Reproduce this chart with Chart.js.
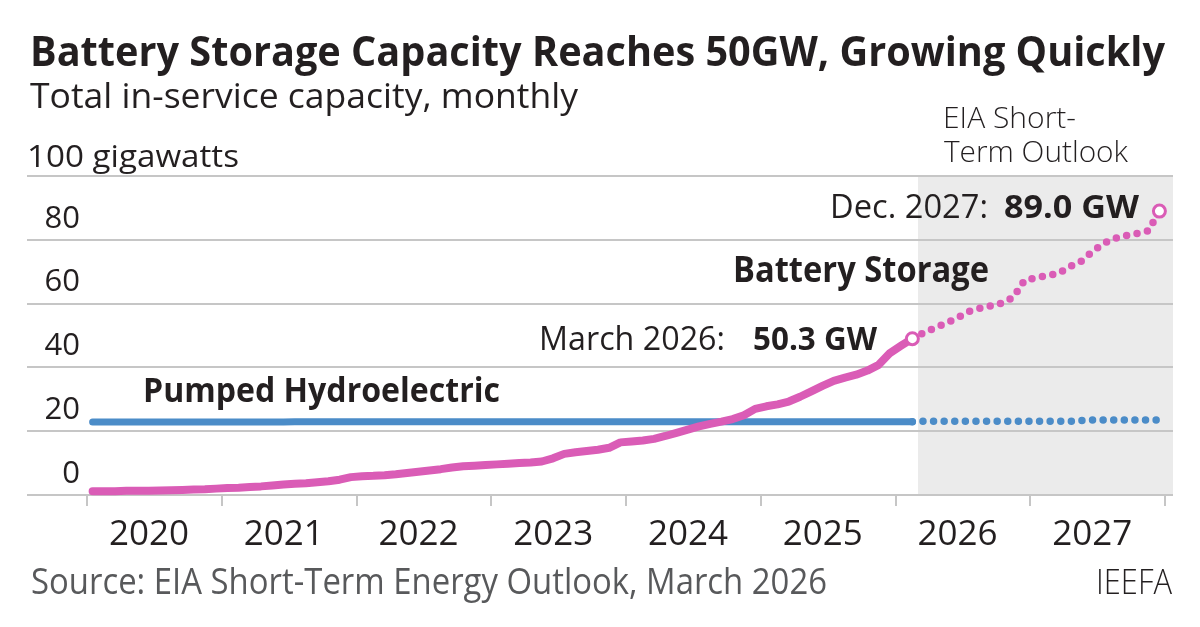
<!DOCTYPE html>
<html>
<head>
<meta charset="utf-8">
<title>Battery Storage Capacity</title>
<script src="https://cdn.jsdelivr.net/npm/chart.js@4.4.1/dist/chart.umd.min.js"></script>
<style>
  html, body { margin: 0; padding: 0; background: #fff; }
  #wrap { width: 1200px; height: 627px; }
</style>
</head>
<body>
<div id="wrap"><canvas id="chart" width="1200" height="627"></canvas></div>
<script>
// Monthly data, Jan 2020 onward (GW). Actuals run to Feb 2026, outlook to Dec 2027.
const yearLabels = ["2020", "2021", "2022", "2023", "2024", "2025", "2026", "2027"];
const yTicks = [0, 20, 40, 60, 80, 100];

const batteryActual = [
    1.2, 1.2, 1.2, 1.3, 1.3, 1.3, 1.4, 1.5, 1.6, 1.7, 1.8, 2.0,
    2.2, 2.3, 2.5, 2.7, 3.0, 3.3, 3.5, 3.7, 4.0, 4.3, 4.8, 5.6,
    5.9, 6.0, 6.2, 6.5, 6.9, 7.3, 7.7, 8.1, 8.6, 9.0, 9.2, 9.4,
    9.6, 9.8, 10.0, 10.2, 10.5, 11.5, 12.9, 13.4, 13.8, 14.2, 14.8, 16.5,
    16.8, 17.1, 17.6, 18.5, 19.5, 20.5, 21.5, 22.3, 23.0, 23.8, 25.0, 27.0,
    27.8, 28.4, 29.3, 30.8, 32.5, 34.2, 35.8, 36.8, 37.7, 39.0, 40.8, 44.5,
    46.8, 49.0
];
const batteryForecast = [
    50.8, 52.4, 53.9, 55.5, 57.5, 58.5, 59.3, 60.2, 62.0, 67.4,
    68.0, 68.8, 69.4, 71.6, 73.2, 76.2, 78.8, 80.4, 81.3, 82.0, 82.8, 89.0
];
const hydroActual = [
    22.9, 22.9, 22.9, 22.9, 22.9, 22.9, 22.9, 22.9, 22.9, 22.9, 22.9, 22.9,
    22.9, 22.9, 22.9, 22.9, 22.9, 22.9, 23.0, 23.0, 23.0, 23.0, 23.0, 23.0,
    23.0, 23.0, 23.0, 23.0, 23.0, 23.0, 23.0, 23.0, 23.0, 23.0, 23.0, 23.0,
    23.0, 23.0, 23.0, 23.0, 23.0, 23.0, 23.0, 23.0, 23.0, 23.0, 23.0, 23.0,
    23.0, 23.0, 23.0, 23.0, 23.0, 23.0, 23.0, 23.0, 23.0, 23.0, 23.0, 23.0,
    23.0, 23.0, 23.0, 23.0, 23.0, 23.0, 23.0, 23.0, 23.0, 23.0, 23.0, 23.0,
    23.0, 23.0
];
const hydroForecast = [
    23.1, 23.1, 23.1, 23.1, 23.1, 23.1, 23.1, 23.1, 23.1, 23.1,
    23.1, 23.1, 23.1, 23.1, 23.3, 23.5, 23.5, 23.5, 23.5, 23.5, 23.5, 23.5
];

const PINK = "#da5cb6";
const BLUE = "#4b8cc8";
const DARK = "#231f20";
const GRID = "#c6c6c6";
const FONT = "'Open Sans', 'Noto Sans', sans-serif";
const outlookStart = batteryActual.length;   // month index where the EIA outlook shading begins

// months are plotted at mid-month: Jan 2020 -> 0.5
function points(values, start) {
    return values.map(function (v, i) { return { x: start + i + 0.5, y: v }; });
}
const lastActual = batteryActual.length - 1;

// draws text squeezed / stretched to a given width
function fitText(ctx, str, x0, x1, y, font, color) {
    ctx.save();
    ctx.font = font;
    ctx.fillStyle = color;
    ctx.textAlign = "left";
    ctx.textBaseline = "alphabetic";
    var m = ctx.measureText(str).width;
    ctx.translate(x0, y);
    ctx.scale((x1 - x0) / m, 1);
    ctx.fillText(str, 0, 0);
    ctx.restore();
}

var decorations = {
    id: "decorations",
    beforeDraw: function (chart) {
        var ctx = chart.ctx, x = chart.scales.x, y = chart.scales.y;
        ctx.save();
        ctx.fillStyle = "#fff";
        ctx.fillRect(0, 0, chart.width, chart.height);
        ctx.fillStyle = "#ebebeb";
        var left = x.getPixelForValue(outlookStart);
        ctx.fillRect(left, y.getPixelForValue(100), chart.chartArea.right - left,
            y.getPixelForValue(0) - y.getPixelForValue(100));
        ctx.restore();
    },
    afterDraw: function (chart) {
        var ctx = chart.ctx, y = chart.scales.y;
        var top = y.getPixelForValue(100);
        fitText(ctx, "Battery Storage Capacity Reaches 50GW, Growing Quickly", 30, 1165, 66, "bold 42px " + FONT, DARK);
        fitText(ctx, "Total in-service capacity, monthly", 30, 578, 108, "35px " + FONT, DARK);
        fitText(ctx, "100 gigawatts", 27, 239, top - 9, "31px " + FONT, DARK);
        fitText(ctx, "EIA Short-", 943, 1076, 128, "300 30px " + FONT, DARK);
        fitText(ctx, "Term Outlook", 944, 1128, 162, "300 30px " + FONT, DARK);
        fitText(ctx, "Dec. 2027:", 830, 988, 218, "32px " + FONT, DARK);
        fitText(ctx, "89.0 GW", 1004, 1139, 218, "bold 32px " + FONT, DARK);
        fitText(ctx, "Battery Storage", 733, 989, 282, "bold 35px " + FONT, DARK);
        fitText(ctx, "March 2026:", 539, 725, 350, "32px " + FONT, DARK);
        fitText(ctx, "50.3 GW", 753, 877, 350, "bold 32px " + FONT, DARK);
        fitText(ctx, "Pumped Hydroelectric", 143, 500, 402, "bold 34px " + FONT, DARK);
        fitText(ctx, "Source: EIA Short-Term Energy Outlook, March 2026", 31, 827, 594, "36px " + FONT, "#58595b");
        fitText(ctx, "IEEFA", 1096, 1172, 594, "300 35px " + FONT, DARK);
    }
};

function endCircle(lastIndex) {
    return function (c) { return c.dataIndex === lastIndex ? 6 : 0; };
}

var ctx = document.getElementById("chart").getContext("2d");
var chart = new Chart(ctx, {
    type: "line",
    data: {
        datasets: [{
            label: "Battery Storage",
            data: points(batteryActual, 0),
            borderColor: PINK,
            borderWidth: 8,
            borderCapStyle: "round",
            borderJoinStyle: "round",
            pointRadius: endCircle(lastActual),
            pointBackgroundColor: "#fff",
            pointBorderColor: PINK,
            pointBorderWidth: 3,
            clip: false
        }, {
            label: "Battery Storage (outlook)",
            data: points([batteryActual[lastActual]].concat(batteryForecast), lastActual),
            borderColor: PINK,
            borderWidth: 7.5,
            borderCapStyle: "round",
            borderDash: [0, 10.6],
            pointRadius: endCircle(batteryForecast.length),
            pointBackgroundColor: "#fff",
            pointBorderColor: PINK,
            pointBorderWidth: 3,
            clip: false
        }, {
            label: "Pumped Hydroelectric",
            data: points(hydroActual, 0),
            borderColor: BLUE,
            borderWidth: 7,
            borderCapStyle: "round",
            pointRadius: 0,
            clip: false
        }, {
            label: "Pumped Hydroelectric (outlook)",
            data: points([hydroActual[hydroActual.length - 1]].concat(hydroForecast), hydroActual.length - 1),
            borderColor: BLUE,
            borderWidth: 7.5,
            borderCapStyle: "round",
            borderDash: [0, 10.6],
            pointRadius: 0,
            clip: false
        }]
    },
    options: {
        responsive: false,
        animation: false,
        layout: { padding: { top: 176, left: 27, right: 27, bottom: 0 } },
        plugins: {
            legend: { display: false },
            tooltip: { enabled: false }
        },
        scales: {
            x: {
                type: "linear",
                min: 0,
                max: 96.71,
                border: { display: false },
                grid: { drawOnChartArea: false, drawTicks: true, tickLength: 11, color: GRID, lineWidth: 2 },
                afterBuildTicks: function (axis) {
                    axis.ticks = yearLabels.concat([""]).map(function (l, i) { return { value: i * 12 }; });
                },
                afterFit: function (axis) { axis.height = 132; },
                ticks: {
                    autoSkip: false,
                    maxRotation: 0,
                    minRotation: 0,
                    labelOffset: 62,
                    padding: 8,
                    color: DARK,
                    font: { family: FONT, size: 35 },
                    callback: function (v) { return yearLabels[v / 12] || ""; }
                }
            },
            y: {
                min: 0,
                max: 100,
                border: { display: false },
                grid: { color: GRID, lineWidth: 2, drawTicks: true, tickLength: 60 },
                afterBuildTicks: function (axis) {
                    axis.ticks = yTicks.map(function (v) { return { value: v }; });
                },
                afterFit: function (axis) { axis.width = 60; },
                ticks: {
                    padding: -53,
                    labelOffset: -21,
                    color: DARK,
                    font: { family: FONT, size: 31 },
                    callback: function (v) { return v === 100 ? "" : v; }
                }
            }
        }
    },
    plugins: [decorations]
});
</script>
</body>
</html>
